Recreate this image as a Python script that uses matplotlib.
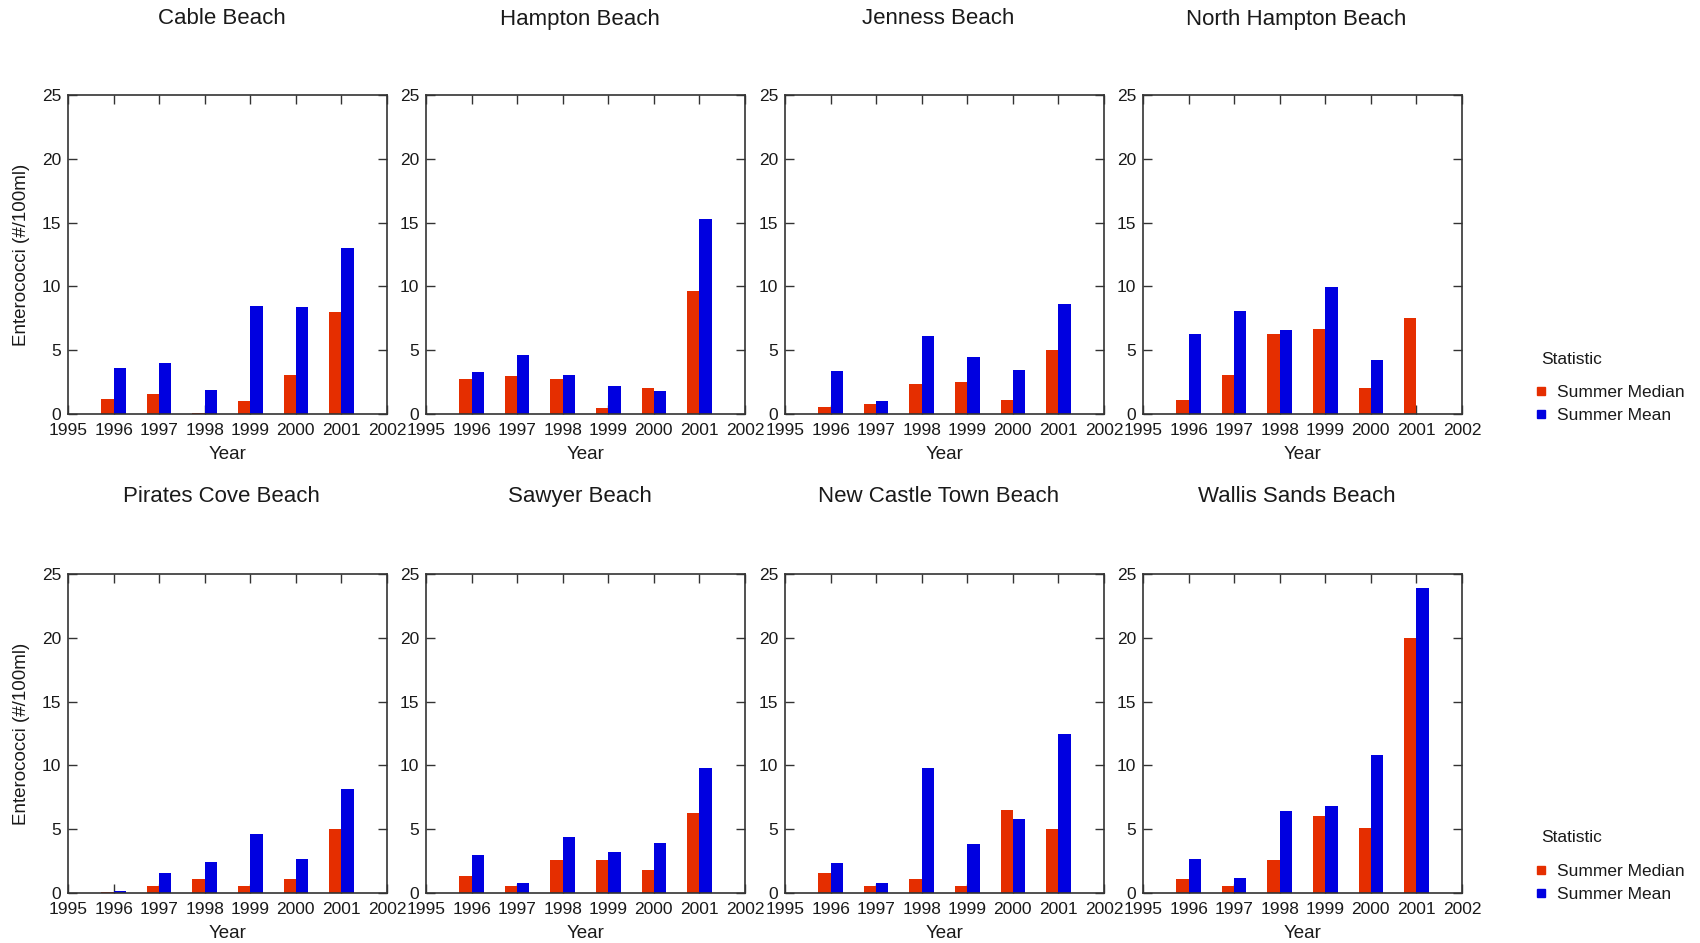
import numpy as np
import matplotlib
matplotlib.use("Agg")
import matplotlib.pyplot as plt
from matplotlib.lines import Line2D

plt.rcParams['font.family'] = ['Liberation Sans', 'DejaVu Sans']

years = [1996, 1997, 1998, 1999, 2000, 2001]
beaches = ["Cable Beach", "Hampton Beach", "Jenness Beach", "North Hampton Beach",
           "Pirates Cove Beach", "Sawyer Beach", "New Castle Town Beach", "Wallis Sands Beach"]

median_cable = [1.15, 1.55, 0.05, 1.05, 3.05, 8.0]
mean_cable = [3.6, 4.0, 1.9, 8.45, 8.35, 13.0]
median_hampton = [2.75, 2.95, 2.75, 0.45, 2.05, 9.65]
mean_hampton = [3.27, 4.6, 3.07, 2.22, 1.83, 15.3]
median_jenness = [0.57, 0.75, 2.35, 2.53, 1.08, 5.05]
mean_jenness = [3.38, 0.98, 6.08, 4.43, 3.48, 8.6]
median_nhampton = [1.08, 3.08, 6.25, 6.67, 2.05, 7.5]
mean_nhampton = [6.25, 8.05, 6.56, 9.95, 4.25, np.nan]
median_pirates = [0.05, 0.54, 1.06, 0.54, 1.06, 5.03]
mean_pirates = [0.13, 1.6, 2.42, 4.61, 2.63, 8.17]
median_sawyer = [1.32, 0.57, 2.59, 2.59, 1.84, 6.27]
mean_sawyer = [2.98, 0.78, 4.35, 3.21, 3.94, 9.82]
median_newcastle = [1.6, 0.54, 1.06, 0.54, 6.53, 5.05]
mean_newcastle = [2.33, 0.75, 9.79, 3.81, 5.8, 12.44]
median_wallis = [1.07, 0.55, 2.56, 6.06, 5.07, 20.0]
mean_wallis = [2.66, 1.17, 6.4, 6.79, 10.81, 23.94]

medians = [median_cable, median_hampton, median_jenness, median_nhampton,
           median_pirates, median_sawyer, median_newcastle, median_wallis]
means = [mean_cable, mean_hampton, mean_jenness, mean_nhampton,
         mean_pirates, mean_sawyer, mean_newcastle, mean_wallis]

xticks = [1995, 1996, 1997, 1998, 1999, 2000, 2001, 2002]
yticks = [0, 5, 10, 15, 20, 25]
series_labels = ["Summer Median", "Summer Mean"]

RED = "#E52E00"
BLUE = "#0000E0"
TXT = "#1a1a1a"
SP = "#333333"

W, H = 1700, 943
fig = plt.figure(figsize=(W / 100, H / 100), dpi=100)

lefts = [68, 426, 785, 1143]
tops = [95, 574]
size = 319
title_y = [19, 497]
bw = 0.27

for i, name in enumerate(beaches):
    r, c = divmod(i, 4)
    ax = fig.add_axes([lefts[c] / W, 1 - (tops[r] + size) / H, size / W, size / H])
    x = np.array(years, dtype=float)
    ax.bar(x - bw / 2, medians[i], width=bw, color=RED, zorder=2, linewidth=0)
    ax.bar(x + bw / 2, means[i], width=bw, color=BLUE, zorder=2, linewidth=0)
    ax.set_xlim(1995, 2002)
    ax.set_ylim(0, 25)
    ax.set_xticks(xticks)
    ax.set_yticks(yticks)
    ax.tick_params(axis='both', direction='in', length=6.5, width=1.0, color=SP,
                   labelsize=12.5, labelcolor=TXT, top=True, right=True)
    ax.tick_params(axis='x', pad=6.5)
    ax.tick_params(axis='y', pad=5)
    for s in ax.spines.values():
        s.set_color(SP)
        s.set_linewidth(1.2)
    ax.set_xlabel("Year", fontsize=13.5, color=TXT, labelpad=6)
    if c == 0:
        ax.set_ylabel("Enterococci (#/100ml)", fontsize=13.5, color=TXT, labelpad=8)
    fig.text((lefts[c] + size / 2 - 6) / W, 1 - title_y[r] / H, name,
             ha='center', va='center', fontsize=16, color=TXT)

handles = [Line2D([], [], marker='s', linestyle='none', color=RED, markersize=5.5),
           Line2D([], [], marker='s', linestyle='none', color=BLUE, markersize=5.5)]
for stat_y, entry_top in [(359, 385), (838, 864)]:
    fig.text(1541 / W, 1 - stat_y / H, "Statistic", ha='left', va='center',
             fontsize=12.5, color=TXT)
    fig.legend(handles, series_labels, loc='upper left',
               bbox_to_anchor=(1535 / W, 1 - entry_top / H), frameon=False,
               fontsize=12.5, handlelength=0.7, handletextpad=0.55, labelspacing=0.42,
               borderpad=0, borderaxespad=0, labelcolor=TXT)

fig.savefig("out.png", dpi=100)
